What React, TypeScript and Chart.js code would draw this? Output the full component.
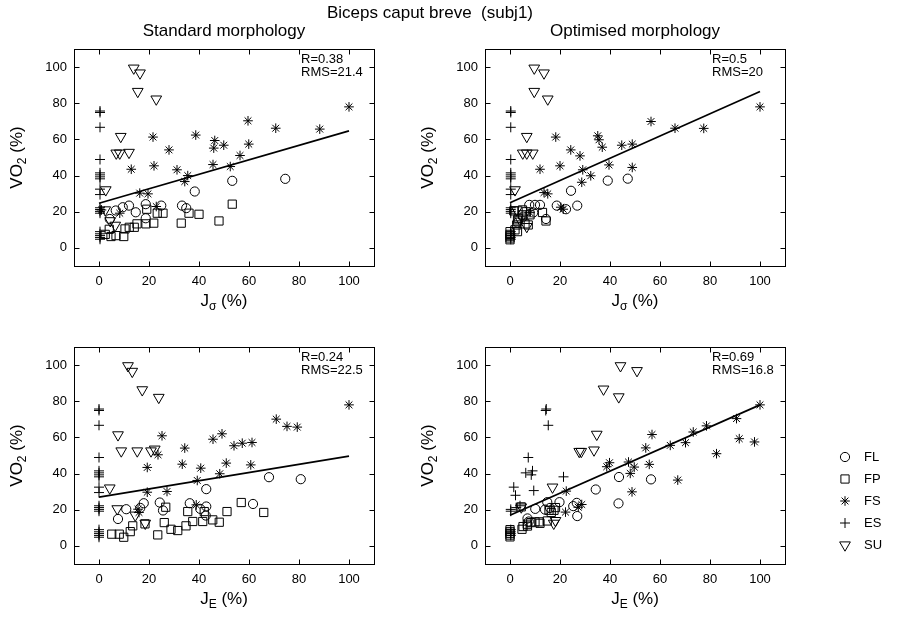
import React, { useEffect, useRef } from 'react';
import { Chart, registerables } from 'chart.js';
import { drawPoint } from 'chart.js/helpers';

Chart.register(...registerables);

const FONT = '"Liberation Sans", Arial, Helvetica, sans-serif';

type Pt = [number, number];

// ---------- tick values ----------
const xTicks = [0, 20, 40, 60, 80, 100];
const yTicks = [0, 20, 40, 60, 80, 100];

// ---------- legend / groups ----------
const groupNames = ['FL', 'FP', 'FS', 'ES', 'SU'];

// ---------- Panel 1: standard morphology, J_sigma ----------
const stdSigmaFL: Pt[] = [[74.5, 38.2], [53.3, 37.1], [38.3, 31.2], [12, 23.4], [18.7, 24.2], [24.9, 23.4], [33.2, 23.4], [34.9, 22], [6.7, 20.7], [14.7, 19.7], [18.7, 16.4], [4.3, 16], [9.5, 22.5]];
const stdSigmaFP: Pt[] = [[53.3, 24.2], [32.9, 13.7], [48, 14.9], [40, 18.6], [25.6, 19.2], [23.3, 19.2], [36, 19.2], [19.1, 21.4], [21.9, 13.7], [18.8, 13.3], [15.2, 13.3], [14.1, 11.4], [12.1, 11.4], [10.4, 10.5], [9.9, 6.3], [6.8, 6.8], [4.8, 6.3], [4.1, 10.3], [2.5, 7.5]];
const stdSigmaFS: Pt[] = [[100, 78], [59.6, 70.3], [70.7, 66.2], [88.3, 65.7], [21.6, 61.3], [38.7, 62.4], [46.3, 59.4], [45.9, 55.2], [49.9, 56.8], [59.9, 57.4], [28, 54.2], [56.4, 51.1], [22, 45.4], [12.9, 43.5], [45.6, 46.1], [52.5, 45], [31.2, 43.2], [35.5, 40], [34.3, 36.7], [16.3, 30.3], [19.6, 29.9], [22.9, 22.9], [8.3, 19.2], [1, 21]];
const stdSigmaES: Pt[] = [[0.4, 75.7], [0.4, 74.9], [0.4, 66.7], [0.4, 48.9], [0.4, 41.5], [0.4, 40.4], [0.4, 39.3], [0.4, 38.2], [0.4, 32.5], [0.4, 29.5], [0.4, 22.2], [0.4, 21.2], [0.4, 20.2], [0.4, 19.2], [0.4, 9], [0.4, 7.8], [0.4, 6.8], [0.4, 5.8], [0.4, 4.8]];
const stdSigmaSU: Pt[] = [[13.9, 99.4], [16.4, 96.7], [15.5, 86.5], [22.9, 82.3], [8.7, 61.6], [6.9, 52.4], [8.3, 52.4], [12, 52.8], [2.7, 32.1], [2.5, 21], [4.5, 15], [6.5, 12.5]];
const stdSigmaFit: Pt[] = [[0, 24.7], [100, 64.7]];
const stdSigmaStats = ['R=0.38', 'RMS=21.4'];

// ---------- Panel 2: optimised morphology, J_sigma ----------
const optSigmaFL: Pt[] = [[39.1, 37.2], [47.1, 38.3], [24.4, 31.6], [18.7, 23.4], [22.4, 21.4], [26.9, 23.4], [12, 23.8], [7.7, 23.8], [9.3, 19.6], [14.4, 16], [10, 23.8], [5.3, 17.3], [3, 14]];
const optSigmaFP: Pt[] = [[0, 9], [0, 7.5], [0, 6.5], [0, 5.5], [0, 4.5], [2, 10], [2.7, 12.7], [3, 15.5], [6, 13.3], [7.3, 12.7], [5, 18.3], [3.3, 16.4], [8, 18.3], [13, 19.6], [14.4, 14.9], [3, 9], [1.5, 20.5], [5, 21], [6.5, 20]];
const optSigmaFS: Pt[] = [[100, 78], [56.4, 69.9], [66, 66.2], [77.5, 66.1], [18.3, 61.3], [35.1, 62], [35.6, 59.8], [36.9, 55.7], [24.3, 54.2], [28, 50.9], [44.7, 56.8], [48.9, 57.4], [12, 43.5], [20, 45.4], [39.6, 45.9], [48.9, 44.5], [29.1, 43.2], [32.3, 39.9], [28.7, 36.3], [13.6, 30.6], [15.1, 29.9], [20.3, 22.5], [21.3, 21.4], [8, 19.5]];
const optSigmaES: Pt[] = [[0.3, 75.7], [0.3, 74.9], [0.3, 66.7], [0.3, 48.9], [0.3, 41.5], [0.3, 40.4], [0.3, 39.3], [0.3, 38.2], [0.3, 32.5], [0.3, 29.5], [0.3, 22.2], [0.3, 21.2], [0.3, 20.2], [0.3, 19.2], [0.3, 9], [0.3, 7.8], [0.3, 6.8], [0.3, 5.8], [0.3, 4.8]];
const optSigmaSU: Pt[] = [[9.7, 99.4], [13.6, 96.7], [9.7, 86.5], [15.1, 82.3], [6.7, 61.6], [5.1, 52.4], [6.7, 52.4], [9.1, 52.4], [2, 32.1], [2.7, 21], [4, 15.5], [6.7, 11.8]];
const optSigmaFit: Pt[] = [[0, 25], [100, 86.5]];
const optSigmaStats = ['R=0.5', 'RMS=20'];

// ---------- Panel 3: standard morphology, J_E ----------
const stdEFL: Pt[] = [[68, 38], [80.7, 36.9], [42.9, 31.4], [17.9, 23.6], [24.3, 24], [36.3, 23.6], [10.9, 20.3], [25.6, 19.6], [42.9, 21.8], [61.6, 23.2], [7.6, 14.9], [42.7, 16.8], [16.5, 21], [40.5, 20.5]];
const stdEFP: Pt[] = [[5.1, 6.5], [8.1, 6.5], [9.9, 4.8], [12.5, 7.9], [13.5, 11.1], [18.4, 12.2], [23.5, 6.1], [26.1, 12.9], [28.8, 9.2], [31.5, 8.5], [34.8, 11.1], [37.5, 13.5], [35.5, 19], [41.5, 13.5], [42.1, 19], [45.5, 14.4], [48.1, 13.1], [51.2, 19], [56.9, 24], [65.9, 18.5], [26.7, 21.4]];
const stdEFS: Pt[] = [[100, 78], [70.9, 70.1], [75.2, 66.1], [79.3, 65.7], [25.2, 60.9], [45.6, 59], [49.2, 62], [34.3, 54.1], [23.6, 50.4], [54, 55.4], [57.3, 56.8], [61.2, 57.2], [19.3, 43.4], [33.3, 45.2], [40.7, 43], [50.9, 45.8], [60.7, 44.8], [48.3, 39.9], [39.3, 36.2], [19.3, 29.7], [27.2, 30.1], [15.6, 20.3], [16, 18.5], [38.9, 22.7]];
const stdEES: Pt[] = [[0, 75.7], [0, 74.9], [0, 66.7], [0, 48.9], [0, 41.5], [0, 40.4], [0, 39.3], [0, 38.2], [0, 32.5], [0, 29.5], [0, 22.2], [0, 21.2], [0, 20.2], [0, 19.2], [0, 9], [0, 7.8], [0, 6.8], [0, 5.8], [0, 4.8]];
const stdESU: Pt[] = [[11.6, 99.6], [13.3, 96.5], [17.3, 86.3], [23.9, 82.1], [7.6, 61.4], [8.9, 52.5], [15.3, 52.5], [20.8, 52.5], [22.3, 53.5], [4.3, 32], [7.3, 20.5], [14.5, 17], [18.5, 12.5]];
const stdEFit: Pt[] = [[0, 27], [100, 49.7]];
const stdEStats = ['R=0.24', 'RMS=22.5'];

// ---------- Panel 4: optimised morphology, J_E ----------
const optEFL: Pt[] = [[43.6, 38.1], [56.4, 36.8], [34.3, 31.2], [43.4, 23.5], [26.7, 23.8], [26.9, 16.5], [25.3, 22], [19.8, 24.2], [10.1, 20.5], [14, 20.1], [7, 15.2], [14.9, 24.2], [16, 21], [7.5, 13.5]];
const optEFP: Pt[] = [[0, 9], [0, 8], [0, 7], [0, 6], [0, 5], [4.8, 9.2], [5.2, 10.7], [6.9, 12], [8.3, 12.9], [10, 13.3], [11.7, 13.3], [14.9, 13.8], [15.6, 19.7], [17.6, 19.7], [18.2, 21.2], [4.5, 21.6], [16.5, 18.5], [7, 11], [12, 12.5]];
const optEFS: Pt[] = [[100, 78], [90.6, 70.4], [91.7, 59.3], [97.8, 57.5], [82.6, 51], [78.6, 66.4], [73.3, 63], [70.2, 57.1], [64.1, 55.6], [56.8, 61.6], [54.3, 54.2], [55.7, 45.1], [47.4, 46.4], [49.7, 43.6], [48.1, 40.1], [48.8, 29.9], [39.8, 46], [38.7, 43.8], [67.1, 36.4], [22.5, 30.3], [28.7, 22.9], [27.3, 21.4], [22.2, 18.7]];
const optEES: Pt[] = [[14.5, 75.7], [14.3, 74.9], [15.3, 66.7], [7.3, 48.9], [9, 41.5], [6.3, 40.4], [8.5, 39.3], [21.4, 38.2], [1.5, 32.5], [9.5, 30.6], [2.2, 28], [4, 22.2], [2.5, 21.2], [0.3, 20.2], [0.3, 19.2], [0.3, 9], [0.3, 7.8], [0.3, 6.8], [0.3, 5.8]];
const optESU: Pt[] = [[44.2, 99.6], [50.8, 96.9], [37.4, 86.7], [43.5, 82.4], [34.7, 61.7], [27.7, 52.2], [28.5, 52.2], [33.6, 53], [17, 32.5], [18.2, 14], [17.5, 12.5], [4.5, 21.5]];
const optEFit: Pt[] = [[0, 17], [100, 78]];
const optEStats = ['R=0.69', 'RMS=16.8'];

// ---------- marker styles ----------
const markerStyles = [
  { pointStyle: 'circle', radius: 4.6, rotation: 0 },
  { pointStyle: 'rect', radius: 5.8, rotation: 0 },
  { pointStyle: 'star', radius: 4.8, rotation: 0 },
  { pointStyle: 'cross', radius: 5, rotation: 0 },
  { pointStyle: 'triangle', radius: 6.2, rotation: 180 },
];

interface Panel {
  box: [number, number, number, number];
  groups: Pt[][];
  fit: Pt[];
  stats: string[];
  xSub: string;
  title?: string;
  supertitle?: string;
  legend?: boolean;
}

const panels: Panel[] = [
  { box: [74, 49, 374, 266], groups: [stdSigmaFL, stdSigmaFP, stdSigmaFS, stdSigmaES, stdSigmaSU], fit: stdSigmaFit, stats: stdSigmaStats, xSub: 'σ', title: 'Standard morphology', supertitle: 'Biceps caput breve  (subj1)' },
  { box: [485, 49, 785, 266], groups: [optSigmaFL, optSigmaFP, optSigmaFS, optSigmaES, optSigmaSU], fit: optSigmaFit, stats: optSigmaStats, xSub: 'σ', title: 'Optimised morphology' },
  { box: [74, 347, 374, 564], groups: [stdEFL, stdEFP, stdEFS, stdEES, stdESU], fit: stdEFit, stats: stdEStats, xSub: 'E' },
  { box: [485, 347, 785, 564], groups: [optEFL, optEFP, optEFS, optEES, optESU], fit: optEFit, stats: optEStats, xSub: 'E', legend: true },
];

const W = 904;
const H = 618;
const Y_AXIS_W = 40;
const X_AXIS_H = 30;
const TICK = 5;

function drawRich(ctx: CanvasRenderingContext2D, parts: { t: string; sub?: boolean }[], cx: number, baseline: number, size: number, subSize: number, subShift: number) {
  let total = 0;
  const widths = parts.map((p) => {
    ctx.font = `${p.sub ? subSize : size}px ${FONT}`;
    const w = ctx.measureText(p.t).width;
    total += w;
    return w;
  });
  let x = cx - total / 2;
  ctx.textAlign = 'left';
  ctx.textBaseline = 'alphabetic';
  parts.forEach((p, i) => {
    ctx.font = `${p.sub ? subSize : size}px ${FONT}`;
    ctx.fillText(p.t, x, baseline + (p.sub ? subShift : 0));
    x += widths[i];
  });
}

function makeDecor(panel: Panel) {
  return {
    id: 'decor',
    afterDraw(chart: any) {
      const ctx: CanvasRenderingContext2D = chart.ctx;
      const a = chart.chartArea;
      const xs = chart.scales.x;
      const ys = chart.scales.y;
      ctx.save();
      ctx.strokeStyle = '#000';
      ctx.fillStyle = '#000';
      ctx.lineWidth = 1;
      const L = Math.round(a.left) + 0.5;
      const T = Math.round(a.top) + 0.5;
      const R = Math.round(a.right) + 0.5;
      const B = Math.round(a.bottom) + 0.5;
      ctx.strokeRect(L, T, R - L, B - T);
      ctx.beginPath();
      for (const v of xTicks) {
        const px = Math.round(xs.getPixelForValue(v)) + 0.5;
        ctx.moveTo(px, B); ctx.lineTo(px, B - TICK);
        ctx.moveTo(px, T); ctx.lineTo(px, T + TICK);
      }
      for (const v of yTicks) {
        const py = Math.round(ys.getPixelForValue(v)) + 0.5;
        ctx.moveTo(L, py); ctx.lineTo(L + TICK, py);
        ctx.moveTo(R, py); ctx.lineTo(R - TICK, py);
      }
      ctx.stroke();

      // statistics text
      ctx.font = `13px ${FONT}`;
      ctx.textAlign = 'left';
      ctx.textBaseline = 'top';
      panel.stats.forEach((s, i) => ctx.fillText(s, a.left + 227, a.top + 4 + i * 13));

      const cx = (a.left + a.right) / 2;
      const cy = (a.top + a.bottom) / 2;
      // x axis title
      drawRich(ctx, [{ t: 'J' }, { t: panel.xSub, sub: true }, { t: ' (%)' }], cx, a.bottom + 40, 17, 12, 4);
      // y axis title
      ctx.save();
      ctx.translate(a.left - 58, cy);
      ctx.rotate(-Math.PI / 2);
      drawRich(ctx, [{ t: 'VO' }, { t: '2', sub: true }, { t: ' (%)' }], 0, 6, 17, 12, 4);
      ctx.restore();

      if (panel.title) {
        ctx.font = `17px ${FONT}`;
        ctx.textAlign = 'center';
        ctx.textBaseline = 'alphabetic';
        ctx.fillText(panel.title, cx, 36);
      }
      if (panel.supertitle) {
        ctx.font = `17px ${FONT}`;
        ctx.textAlign = 'center';
        ctx.textBaseline = 'alphabetic';
        ctx.fillText(panel.supertitle, 430, 18);
      }
      if (panel.legend) {
        groupNames.forEach((name, i) => {
          const y = 457 + i * 22;
          const m = markerStyles[i];
          ctx.strokeStyle = '#000';
          ctx.fillStyle = 'rgba(0,0,0,0)';
          ctx.lineWidth = 1;
          drawPoint(ctx, { pointStyle: m.pointStyle as any, radius: m.radius, rotation: m.rotation, borderWidth: 1 }, 845, y);
          ctx.fillStyle = '#000';
          ctx.font = `13px ${FONT}`;
          ctx.textAlign = 'left';
          ctx.textBaseline = 'middle';
          ctx.fillText(name, 864, y);
        });
      }
      ctx.restore();
    },
  };
}

function makeConfig(panel: Panel): any {
  const [bl, bt, br, bb] = panel.box;
  const datasets: any[] = panel.groups.map((pts, i) => ({
    label: groupNames[i],
    data: pts.map(([x, y]) => ({ x, y })),
    pointStyle: markerStyles[i].pointStyle,
    pointRadius: markerStyles[i].radius,
    pointRotation: markerStyles[i].rotation,
    pointBorderWidth: 1,
    borderColor: '#000',
    backgroundColor: 'rgba(0,0,0,0)',
    showLine: false,
  }));
  datasets.push({
    label: 'fit',
    data: panel.fit.map(([x, y]) => ({ x, y })),
    showLine: true,
    pointRadius: 0,
    borderColor: '#000',
    borderWidth: 1.7,
    backgroundColor: 'rgba(0,0,0,0)',
  });
  const tickFont = { family: FONT, size: 13 };
  return {
    type: 'scatter',
    data: { datasets },
    options: {
      animation: false,
      responsive: false,
      devicePixelRatio: 1,
      events: [],
      layout: { padding: { left: bl - Y_AXIS_W, top: bt, right: W - br, bottom: H - bb - X_AXIS_H } },
      plugins: { legend: { display: false }, tooltip: { enabled: false }, title: { display: false } },
      scales: {
        x: {
          type: 'linear',
          min: -10,
          max: 110,
          afterBuildTicks: (s: any) => { s.ticks = xTicks.map((v) => ({ value: v })); },
          afterFit: (s: any) => { s.height = X_AXIS_H; },
          grid: { display: false, drawTicks: false },
          border: { display: false },
          ticks: { font: tickFont, color: '#000', padding: 8, maxRotation: 0, autoSkip: false },
        },
        y: {
          type: 'linear',
          min: -10,
          max: 110,
          afterBuildTicks: (s: any) => { s.ticks = yTicks.map((v) => ({ value: v })); },
          afterFit: (s: any) => { s.width = Y_AXIS_W; },
          grid: { display: false, drawTicks: false },
          border: { display: false },
          ticks: { font: tickFont, color: '#000', padding: 7, autoSkip: false },
        },
      },
    },
    plugins: [makeDecor(panel)],
  };
}

export default function App() {
  const r0 = useRef<HTMLCanvasElement>(null);
  const r1 = useRef<HTMLCanvasElement>(null);
  const r2 = useRef<HTMLCanvasElement>(null);
  const r3 = useRef<HTMLCanvasElement>(null);
  const refs = [r0, r1, r2, r3];

  useEffect(() => {
    const charts = panels.map((p, i) => new Chart(refs[i].current as HTMLCanvasElement, makeConfig(p)));
    return () => charts.forEach((c) => c.destroy());
  }, []);

  return (
    <div style={{ position: 'absolute', left: 0, top: 0, width: W, height: H, background: '#fff', overflow: 'hidden' }}>
      {panels.map((_, i) => (
        <canvas
          key={i}
          ref={refs[i]}
          width={W}
          height={H}
          style={{ position: 'absolute', left: 0, top: 0, width: W, height: H }}
        />
      ))}
    </div>
  );
}
